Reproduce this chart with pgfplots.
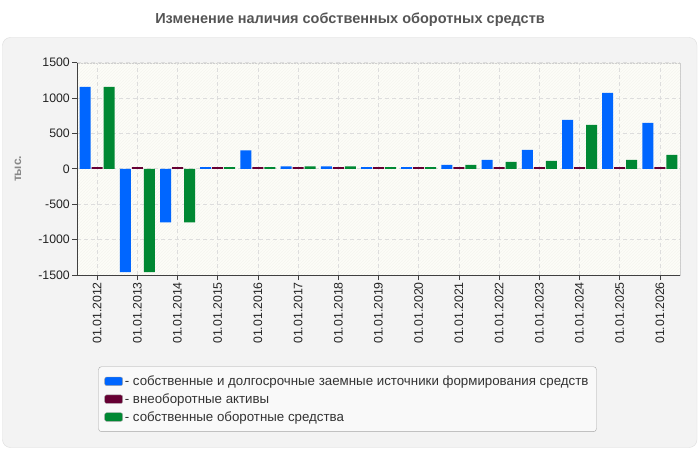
\documentclass[border=0pt]{standalone}
\usepackage{pgfplots}
\pgfplotsset{compat=1.18}
\usepackage{pgfplotstable}
\usepackage{fontspec}
\setmainfont{Liberation Sans}
\usetikzlibrary{patterns}

\definecolor{srcblue}{HTML}{0066FF}
\definecolor{ncamaroon}{HTML}{660033}
\definecolor{wcgreen}{HTML}{008833}
\definecolor{panelbg}{HTML}{F3F3F3}
\definecolor{panelline}{HTML}{DDDDDD}
\definecolor{plotbg}{HTML}{FDFDF8}
\definecolor{hatch}{HTML}{F5F5EF}
\definecolor{gridc}{HTML}{DDDDDD}
\definecolor{titlegray}{HTML}{555555}
\definecolor{labelgray}{HTML}{888888}
\definecolor{textdark}{HTML}{222222}
\definecolor{legendbg}{HTML}{F9F9F9}

% idx: year index (01.01.2012 = 0)
% src: own and long-term borrowed funding sources
% nca: non-current assets
% wc: own working capital
\pgfplotstableread{
idx src   nca  wc
0   1160  25   1160
1  -1460  25  -1460
2  -755   25  -755
3   25    25   25
4   260   25   25
5   35    25   35
6   35    25   35
7   25    25   25
8   25    25   25
9   56    25   56
10  127   25   99
11  268   25   113
12  692   25   621
13  1072  25   127
14  649   25   198
}\datatable

\begin{document}
\begin{tikzpicture}[x=1pt,y=1pt]
% canvas and outer panel
\fill[white] (0,0) rectangle (700,450);
\draw[panelline, fill=panelbg, rounded corners=8pt] (2.5,2.5) rectangle (697,412.5);
\node[font=\bfseries\fontsize{14.5}{16}\selectfont, text=titlegray] at (350,430)
  {Изменение наличия собственных оборотных средств};

\begin{axis}[
  at={(77pt,175pt)}, anchor=south west,
  scale only axis, width=603pt, height=212.3pt,
  ybar=1pt, bar width=11pt,
  xmin=-0.5, xmax=14.5,
  ymin=-1500, ymax=1500,
  ytick={-1500,-1000,...,1500},
  xtick=data,
  xticklabels={01.01.2012,01.01.2013,01.01.2014,01.01.2015,01.01.2016,
    01.01.2017,01.01.2018,01.01.2019,01.01.2020,01.01.2021,01.01.2022,
    01.01.2023,01.01.2024,01.01.2025,01.01.2026},
  x tick label style={rotate=90, anchor=east, inner sep=2pt},
  y tick label style={inner sep=2pt},
  tick label style={font=\fontsize{12.3}{14}\selectfont, text=textdark},
  /pgf/number format/assume math mode=true,
  /pgf/number format/1000 sep={},
  axis x line*=bottom, axis y line*=left,
  axis line style={color=black!75, line width=0.8pt},
  tick align=outside, major tick length=5pt,
  tick style={color=black!75, line width=0.8pt},
  grid=major,
  major grid style={gridc, dash pattern=on 4pt off 3pt, line width=0.8pt},
  axis background/.style={fill=plotbg, draw=black!20,
    postaction={pattern=north east lines, pattern color=hatch}},
  ylabel={тыс.},
  every axis y label/.style={at={(axis description cs:-0.0978,0.5)},
    rotate=90, anchor=center, font=\bfseries\fontsize{12}{14}\selectfont, text=labelgray},
  legend image code/.code={\path[#1, draw=black!35, rounded corners=2pt]
    (0pt,-4.3pt) rectangle (18pt,4.3pt);},
  legend style={at={(axis description cs:0.0353,-0.431)}, anchor=north west,
    draw=black!35, fill=legendbg, rounded corners=3pt,
    font=\fontsize{13.3}{15}\selectfont, text=black!80,
    inner xsep=6pt, inner ysep=7pt, row sep=2.6pt,
    nodes={inner xsep=2pt}},
  legend cell align=left,
]
\addplot[draw=none, fill=srcblue] table[x=idx, y=src] {\datatable};
\addplot[draw=none, fill=ncamaroon] table[x=idx, y=nca] {\datatable};
\addplot[draw=none, fill=wcgreen] table[x=idx, y=wc] {\datatable};
\legend{- собственные и долгосрочные заемные источники формирования средств,
  - внеоборотные активы,
  - собственные оборотные средства}
\end{axis}
\end{tikzpicture}
\end{document}
